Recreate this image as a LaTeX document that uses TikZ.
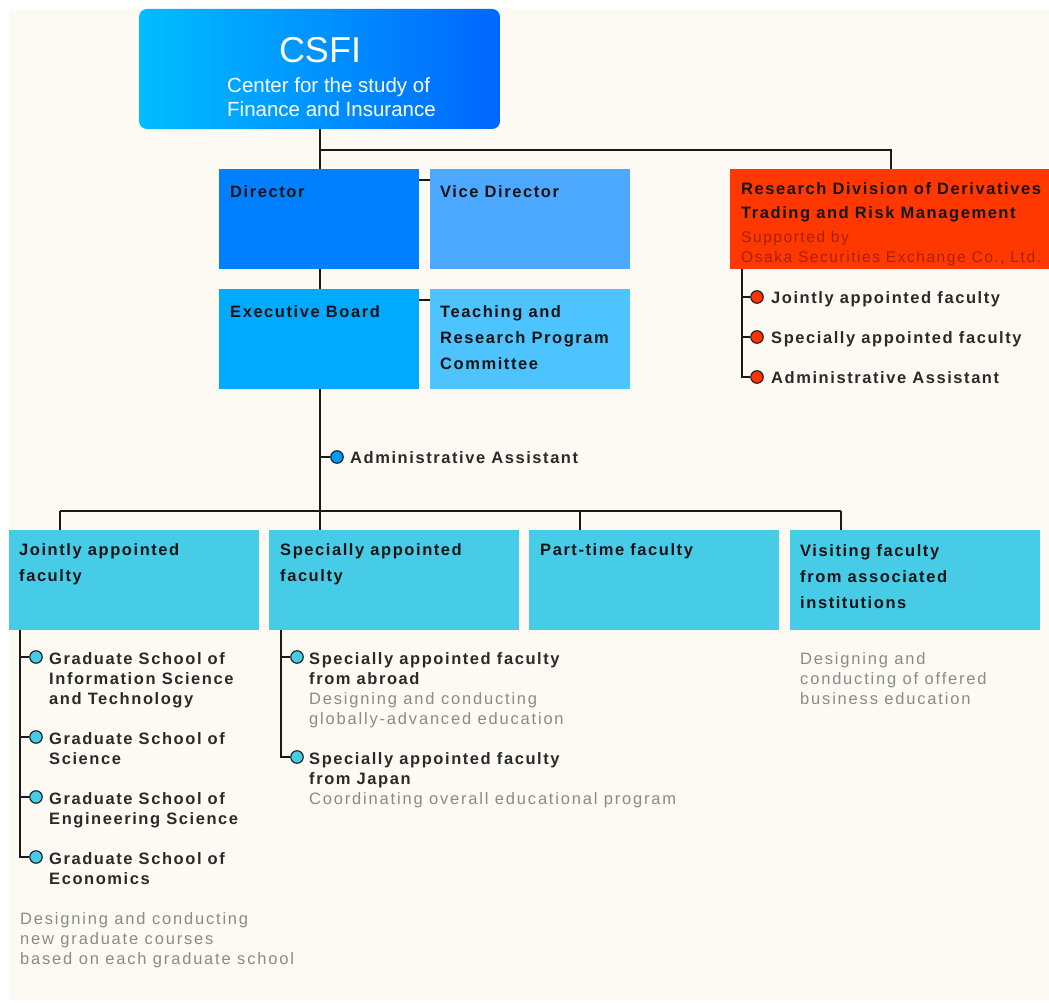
\documentclass[tikz,border=0pt]{standalone}
\usepackage{fontspec}
\setmainfont{Liberation Sans}
\newfontfamily\trk{Liberation Sans}[LetterSpace=9.5]
\newfontfamily\trkr{Liberation Sans}[LetterSpace=11]
\newfontfamily\trkrd{Liberation Sans}[LetterSpace=10]
\newfontfamily\plainsf{Liberation Sans}
\usetikzlibrary{calc}
\definecolor{cBg}{HTML}{FDFAF3}
\definecolor{cLine}{HTML}{1A1A1A}
\definecolor{cTxt}{HTML}{141414}
\definecolor{cItm}{HTML}{2A2A2A}
\definecolor{cDsc}{HTML}{8A8A8A}
\definecolor{cDir}{HTML}{0080FF}
\definecolor{cVice}{HTML}{4DA8FF}
\definecolor{cExec}{HTML}{00AAFF}
\definecolor{cTeach}{HTML}{4DC4FF}
\definecolor{cFac}{HTML}{47CCE8}
\definecolor{cRed}{HTML}{FF3800}
\definecolor{cRedTxt}{HTML}{A82000}
\definecolor{cBlueDot}{HTML}{0099FF}
\definecolor{cRedDot}{HTML}{FF3300}
\definecolor{cCsfiL}{HTML}{00BEFF}
\definecolor{cCsfiM}{HTML}{00A6FF}
\definecolor{cCsfiR}{HTML}{0066FF}
\newcommand\ml[1]{\begin{tabular}[t]{@{}l@{}}#1\end{tabular}}
\newcommand\gr{\color{cDsc}\trkr\mdseries}
\tikzset{
  box/.style={rectangle, draw=none, inner sep=0pt, outer sep=0pt, anchor=north west, minimum width=200pt, minimum height=100pt},
  wide/.style={minimum width=250pt},
  ttl/.style={inner sep=0pt, anchor=base west, text=cTxt, font=\trk\bfseries\fontsize{16.5}{26}\selectfont},
  itm/.style={inner sep=0pt, anchor=base west, text=cItm, font=\trk\bfseries\fontsize{16.5}{20}\selectfont},
  dsc/.style={inner sep=0pt, anchor=base west, text=cDsc, font=\trkr\fontsize{16.5}{20}\selectfont},
  dot/.style={circle, draw=cLine, line width=1.1pt, inner sep=0pt, minimum size=12.5pt},
  conn/.style={draw=cLine, line width=1.6pt},
}
\begin{document}
\begin{tikzpicture}[x=1pt,y=-1pt]
\useasboundingbox (0,0) rectangle (1049,1003);
\fill[white] (0,0) rectangle (1049,1003);
\fill[cBg] (9,9) rectangle (1049,1000);

% boxes
\node[box, minimum width=361pt, minimum height=120pt, rounded corners=8pt,
      left color=cCsfiL, middle color=cCsfiM, right color=cCsfiR] (csfi) at (139,9) {};
\node[anchor=base, text=white, inner sep=0pt, font=\plainsf\fontsize{36}{36}\selectfont] (csfiT) at (320,63) {CSFI};
\node[anchor=base west, text=white, inner sep=0pt, font=\plainsf\fontsize{20.5}{24}\selectfont] (csfiS) at (227,93) {\ml{Center for the study of\\Finance and Insurance}};

\node[box, fill=cDir] (dir) at (219,169) {};
\node[box, fill=cVice] (vice) at (430,169) {};
\node[box, fill=cExec] (exec) at (219,289) {};
\node[box, fill=cTeach] (teach) at (430,289) {};
\node[box, fill=cRed, minimum width=319pt] (rd) at (730,169) {};

\node[box, wide, fill=cFac] (jf) at (9,530) {};
\node[box, wide, fill=cFac] (sf) at (269,530) {};
\node[box, wide, fill=cFac] (pf) at (529,530) {};
\node[box, wide, fill=cFac] (vf) at (790,530) {};

% box titles
\node[ttl] (tdir) at (230,197) {Director};
\node[ttl] (tvice) at (440,197) {Vice Director};
\node[ttl] (texec) at (230,317) {Executive Board};
\node[ttl] (tteach) at (440,317) {\ml{Teaching and\\Research Program\\Committee}};
\node[ttl] (trd) at (741,195) {\fontsize{16.5}{24}\selectfont\ml{Research Division of Derivatives\\Trading and Risk Management}};
\node[dsc, text=cRedTxt, font=\trkrd\fontsize{15.5}{20}\selectfont] (trd2) at (741,242) {\ml{Supported by\\Osaka Securities Exchange Co., Ltd.}};
\node[ttl] (tjf) at (19,555) {\ml{Jointly appointed\\faculty}};
\node[ttl] (tsf) at (280,555) {\ml{Specially appointed\\faculty}};
\node[ttl] (tpf) at (540,555) {Part-time faculty};
\node[ttl] (tvf) at (800,556) {\ml{Visiting faculty\\from associated\\institutions}};

% top connectors
\coordinate (hL) at (320,150);
\coordinate (hR) at (891,150);
\draw[conn] (csfi.south -| hL) -- (hL) -- (hR) -- (hR |- rd.north);
\draw[conn] (hL) -- (hL |- dir.north);
\draw[conn] (hL |- dir.south) -- (hL |- exec.north);
\draw[conn] ($(dir.north east)+(0,11)$) -- ($(vice.north west)+(0,11)$);
\draw[conn] ($(exec.north east)+(0,11)$) -- ($(teach.north west)+(0,11)$);

% administrative assistant
\node[dot, fill=cBlueDot] (adm) at (337,457) {};
\node[itm] (tadm) at (350,463) {Administrative Assistant};
\coordinate (bL) at (60,511);
\coordinate (b3) at (580,511);
\coordinate (bR) at (841,511);
\draw[conn] (hL |- exec.south) -- (hL |- sf.north);
\draw[conn] (hL |- adm) -- (adm.west);
\draw[conn] (bL) -- (bR);
\draw[conn] (bL) -- (bL |- jf.north);
\draw[conn] (b3) -- (b3 |- pf.north);
\draw[conn] (bR) -- (bR |- vf.north);

% research division list
\node[dot, fill=cRedDot] (r1) at (757,297) {};
\node[dot, fill=cRedDot] (r2) at (757,337) {};
\node[dot, fill=cRedDot] (r3) at (757,377) {};
\node[itm] (tr1) at (771,303) {Jointly appointed faculty};
\node[itm] (tr2) at (771,343) {Specially appointed faculty};
\node[itm] (tr3) at (771,383) {Administrative Assistant};
\coordinate (rv) at (742,269);
\draw[conn] (rv) |- (r3.west);
\draw[conn] (rv |- r1) -- (r1.west);
\draw[conn] (rv |- r2) -- (r2.west);

% jointly appointed list
\node[dot, fill=cFac] (j1) at (36,657) {};
\node[dot, fill=cFac] (j2) at (36,737) {};
\node[dot, fill=cFac] (j3) at (36,797) {};
\node[dot, fill=cFac] (j4) at (36,857) {};
\node[itm] (tj1) at (49,664) {\ml{Graduate School of\\Information Science\\and Technology}};
\node[itm] (tj2) at (49,744) {\ml{Graduate School of\\Science}};
\node[itm] (tj3) at (49,804) {\ml{Graduate School of\\Engineering Science}};
\node[itm] (tj4) at (49,864) {\ml{Graduate School of\\Economics}};
\coordinate (jv) at (20,630);
\draw[conn] (jv) |- (j4.west);
\draw[conn] (jv |- j1) -- (j1.west);
\draw[conn] (jv |- j2) -- (j2.west);
\draw[conn] (jv |- j3) -- (j3.west);
\node[dsc] (dj) at (20,924) {\ml{Designing and conducting\\new graduate courses\\based on each graduate school}};

% specially appointed list
\node[dot, fill=cFac] (s1) at (297,657) {};
\node[dot, fill=cFac] (s2) at (297,757) {};
\node[itm] (ts1) at (309,664) {\ml{Specially appointed faculty\\from abroad\\\gr Designing and conducting\\\gr globally-advanced education}};
\node[itm] (ts2) at (309,764) {\ml{Specially appointed faculty\\from Japan\\\gr Coordinating overall educational program}};
\coordinate (sv) at (281,630);
\draw[conn] (sv) |- (s2.west);
\draw[conn] (sv |- s1) -- (s1.west);

% visiting faculty description
\node[dsc] (dv) at (800,664) {\ml{Designing and\\conducting of offered\\business education}};
\end{tikzpicture}
\end{document}
